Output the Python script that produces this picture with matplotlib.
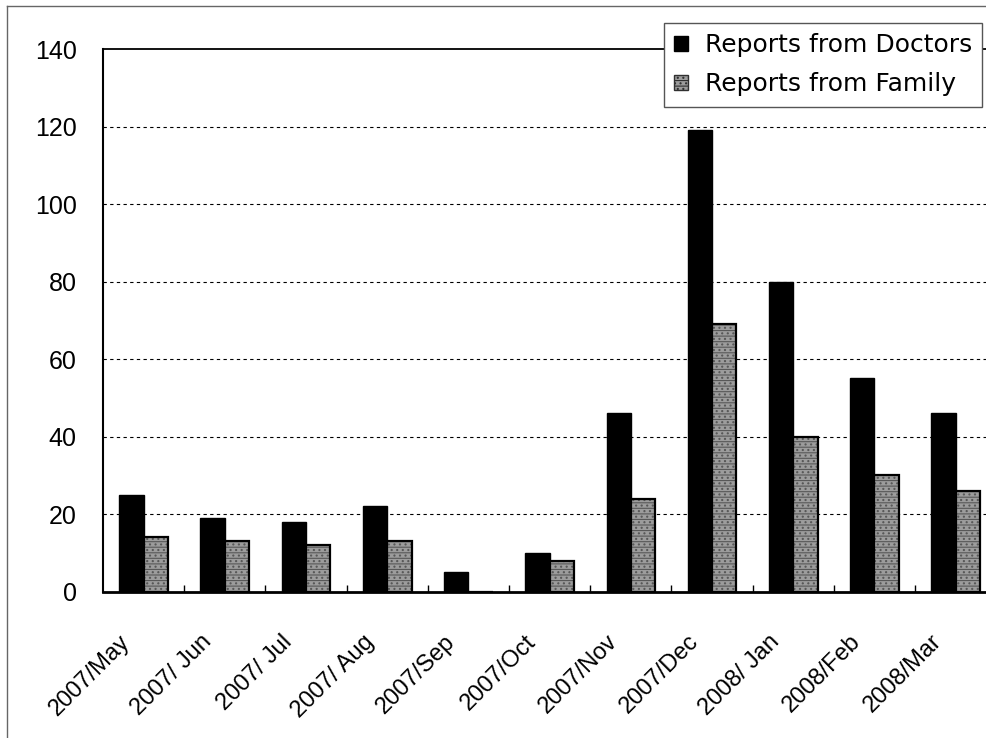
import matplotlib
matplotlib.use("Agg")
import numpy as np
from matplotlib import pyplot as plt
from matplotlib.patches import Patch
from matplotlib.lines import Line2D
from matplotlib.transforms import ScaledTranslation

months = ['2007/May', '2007/ Jun', '2007/ Jul', '2007/ Aug', '2007/Sep', '2007/Oct',
          '2007/Nov', '2007/Dec', '2008/ Jan', '2008/Feb', '2008/Mar']
doctors = [25, 19, 18, 22, 5, 10, 46, 119, 80, 55, 46]
family = [14, 13, 12, 13, 0, 8, 24, 69, 40, 30, 26]
yticks = [0, 20, 40, 60, 80, 100, 120, 140]

plt.rcParams['hatch.linewidth'] = 0.8

fig = plt.figure(figsize=(9.87, 7.38), dpi=100)
ax = fig.add_axes([0.1044, 0.1985, 0.905, 0.735])

x = np.arange(len(months))
w = 0.3
fam_face = '#9c9c9c'
fam_hatch = '---...'
ax.bar(x - w, doctors, width=w, align='edge', color='black', edgecolor='black', linewidth=1, zorder=3)
# textured gray bars, outline drawn on top separately so the hatch can stay gray
ax.bar(x, family, width=w, align='edge', color=fam_face, edgecolor='#585858',
       hatch=fam_hatch, linewidth=0, zorder=3)
ax.bar(x, family, width=w, align='edge', facecolor='none', edgecolor='black', linewidth=1.6, zorder=4)

ax.set_xlim(-0.5, len(months) - 0.5)
ax.set_ylim(0, 140)
ax.set_yticks(yticks)
ax.set_yticklabels([str(v) for v in yticks], fontsize=18, family='Liberation Sans')
ax.tick_params(axis='y', length=0, pad=19)

for v in yticks[1:-1]:
    ax.axhline(v, color='black', linewidth=0.8, linestyle=(0, (3, 3)), zorder=1)

ax.set_xticks(x)
ax.set_xticklabels(months, fontsize=17, family='Liberation Sans', rotation=45,
                   ha='right', va='center', rotation_mode='anchor')
ax.tick_params(axis='x', which='major', length=0, pad=0)
ax.set_xticks(x[:-1] + 0.5, minor=True)
ax.tick_params(axis='x', which='minor', direction='in', length=5, width=1, color='black')
shift = ScaledTranslation(-17 / 100, -47 / 100, fig.dpi_scale_trans)
for lab in ax.get_xticklabels():
    lab.set_transform(lab.get_transform() + shift)

ax.spines['right'].set_visible(False)
ax.spines['left'].set_linewidth(1.5)
ax.spines['bottom'].set_linewidth(2)
ax.spines['top'].set_linewidth(1.3)
for s in ax.spines.values():
    s.set_zorder(5)

handles = [Patch(facecolor='black', edgecolor='black', linewidth=1),
           Patch(facecolor=fam_face, edgecolor='#303030', hatch=fam_hatch, linewidth=1)]
leg = fig.legend(handles, ['Reports from Doctors', 'Reports from Family'],
                 loc='upper left', bbox_to_anchor=(664 / 987, 1 - 23 / 738),
                 prop={'family': 'DejaVu Sans', 'size': 18}, frameon=True, fancybox=False,
                 framealpha=1, edgecolor='#555555', handlelength=0.56, handleheight=0.56,
                 handletextpad=0.68, borderpad=0.4, labelspacing=0.62, borderaxespad=0)
leg.get_frame().set_linewidth(1)
leg.set_zorder(10)

# outer frame of the chart area
fy = 1 - 6 / 738
fx = 7 / 987
fig.add_artist(Line2D([fx, fx], [0, fy], color='#666666', linewidth=1))
fig.add_artist(Line2D([fx, 1], [fy, fy], color='#666666', linewidth=1))

fig.savefig('out.png', dpi=100)
